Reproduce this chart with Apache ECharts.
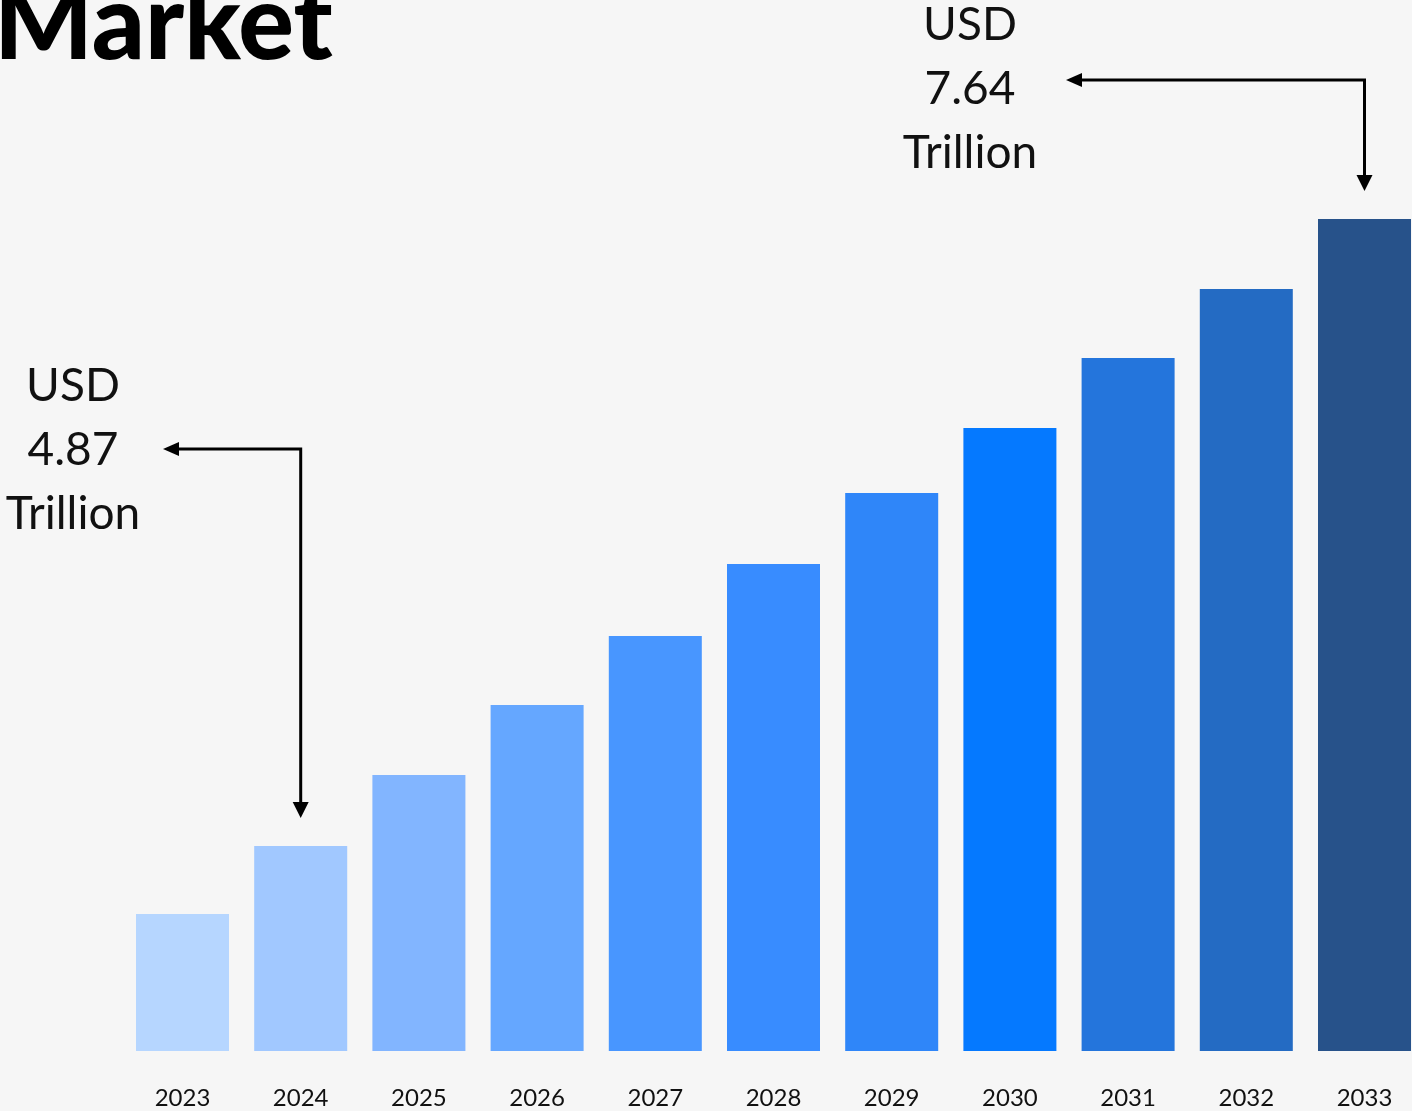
<!DOCTYPE html>
<html>
<head>
<meta charset="utf-8">
<style>
html,body{margin:0;padding:0;background:#f6f6f6;}
#chart{width:1412px;height:1111px;}
</style>
<script src="https://cdn.jsdelivr.net/npm/echarts@6/dist/echarts.min.js"></script>
</head>
<body>
<div id="chart"></div>
<script>
// Categories (years)
var years = ['2023','2024','2025','2026','2027','2028','2029','2030','2031','2032','2033'];
// Relative bar heights (illustrative scale)
var barValues = [137, 205, 276, 346, 415, 487, 558, 623, 693, 762, 832];
// Bar colours, light to dark
var barColors = ['#b6d6ff','#a1c8ff','#82b5ff','#65a7ff','#4896ff','#388cff','#2f86f9','#0579ff','#2475dc','#246bc3','#27528a'];
// Annotation texts
var titleText = 'Market';
var startNote = ['USD', '4.87', 'Trillion'];
var endNote = ['USD', '7.64', 'Trillion'];

var chart = echarts.init(document.getElementById('chart'));
var FONT = 'Lato, "Noto Sans", sans-serif';

var option = {
  backgroundColor: '#f6f6f6',
  animation: false,
  grid: { left: 182.5, right: 47.5, top: 219, bottom: 60 },
  xAxis: {
    type: 'category',
    data: years,
    boundaryGap: false,
    axisLine: { show: false },
    axisTick: { show: false },
    axisLabel: { color: '#111', fontSize: 24, fontFamily: FONT, margin: 35 }
  },
  yAxis: {
    type: 'value', min: 0, max: 832,
    show: false, splitLine: { show: false }
  },
  series: [{
    type: 'bar',
    barWidth: 93,
    clip: false,
    data: barValues.map(function (v, i) {
      return { value: v, itemStyle: { color: barColors[i] } };
    })
  }]
};
chart.setOption(option);

function noteTexts(lines, cx, y0) {
  return lines.map(function (t, i) {
    return {
      type: 'text', z: 10,
      style: {
        text: t, x: cx, y: y0 + i * 64,
        textAlign: 'center', textVerticalAlign: 'middle',
        font: '400 46px ' + FONT, fill: '#111'
      }
    };
  });
}

function arrow(fromX, lineY, barIdx) {
  var cx = chart.convertToPixel({ xAxisIndex: 0 }, years[barIdx]);
  var topY = chart.convertToPixel({ yAxisIndex: 0 }, barValues[barIdx]);
  var tipY = topY - 28;
  var els = [];
  els.push({
    type: 'polyline', z: 10,
    shape: { points: [[fromX + 12, lineY], [cx, lineY], [cx, tipY - 14]] },
    style: { stroke: '#000', lineWidth: 3, fill: null }
  });
  els.push({
    type: 'polygon', z: 10,
    shape: { points: [[fromX, lineY], [fromX + 16, lineY - 7], [fromX + 16, lineY + 7]] },
    style: { fill: '#000' }
  });
  els.push({
    type: 'polygon', z: 10,
    shape: { points: [[cx, tipY], [cx - 8, tipY - 16], [cx + 8, tipY - 16]] },
    style: { fill: '#000' }
  });
  return els;
}

var graphics = [{
  type: 'text', z: 10,
  style: {
    text: titleText, x: -6, y: 77,
    textAlign: 'left', textVerticalAlign: 'bottom',
    font: '900 104px ' + FONT, fill: '#000'
  }
}];
graphics = graphics.concat(noteTexts(endNote, 970, 25));
graphics = graphics.concat(noteTexts(startNote, 73, 386));
graphics = graphics.concat(arrow(1066, 80, 10));
graphics = graphics.concat(arrow(163, 449, 1));

chart.setOption({ graphic: graphics });
</script>
</body>
</html>
